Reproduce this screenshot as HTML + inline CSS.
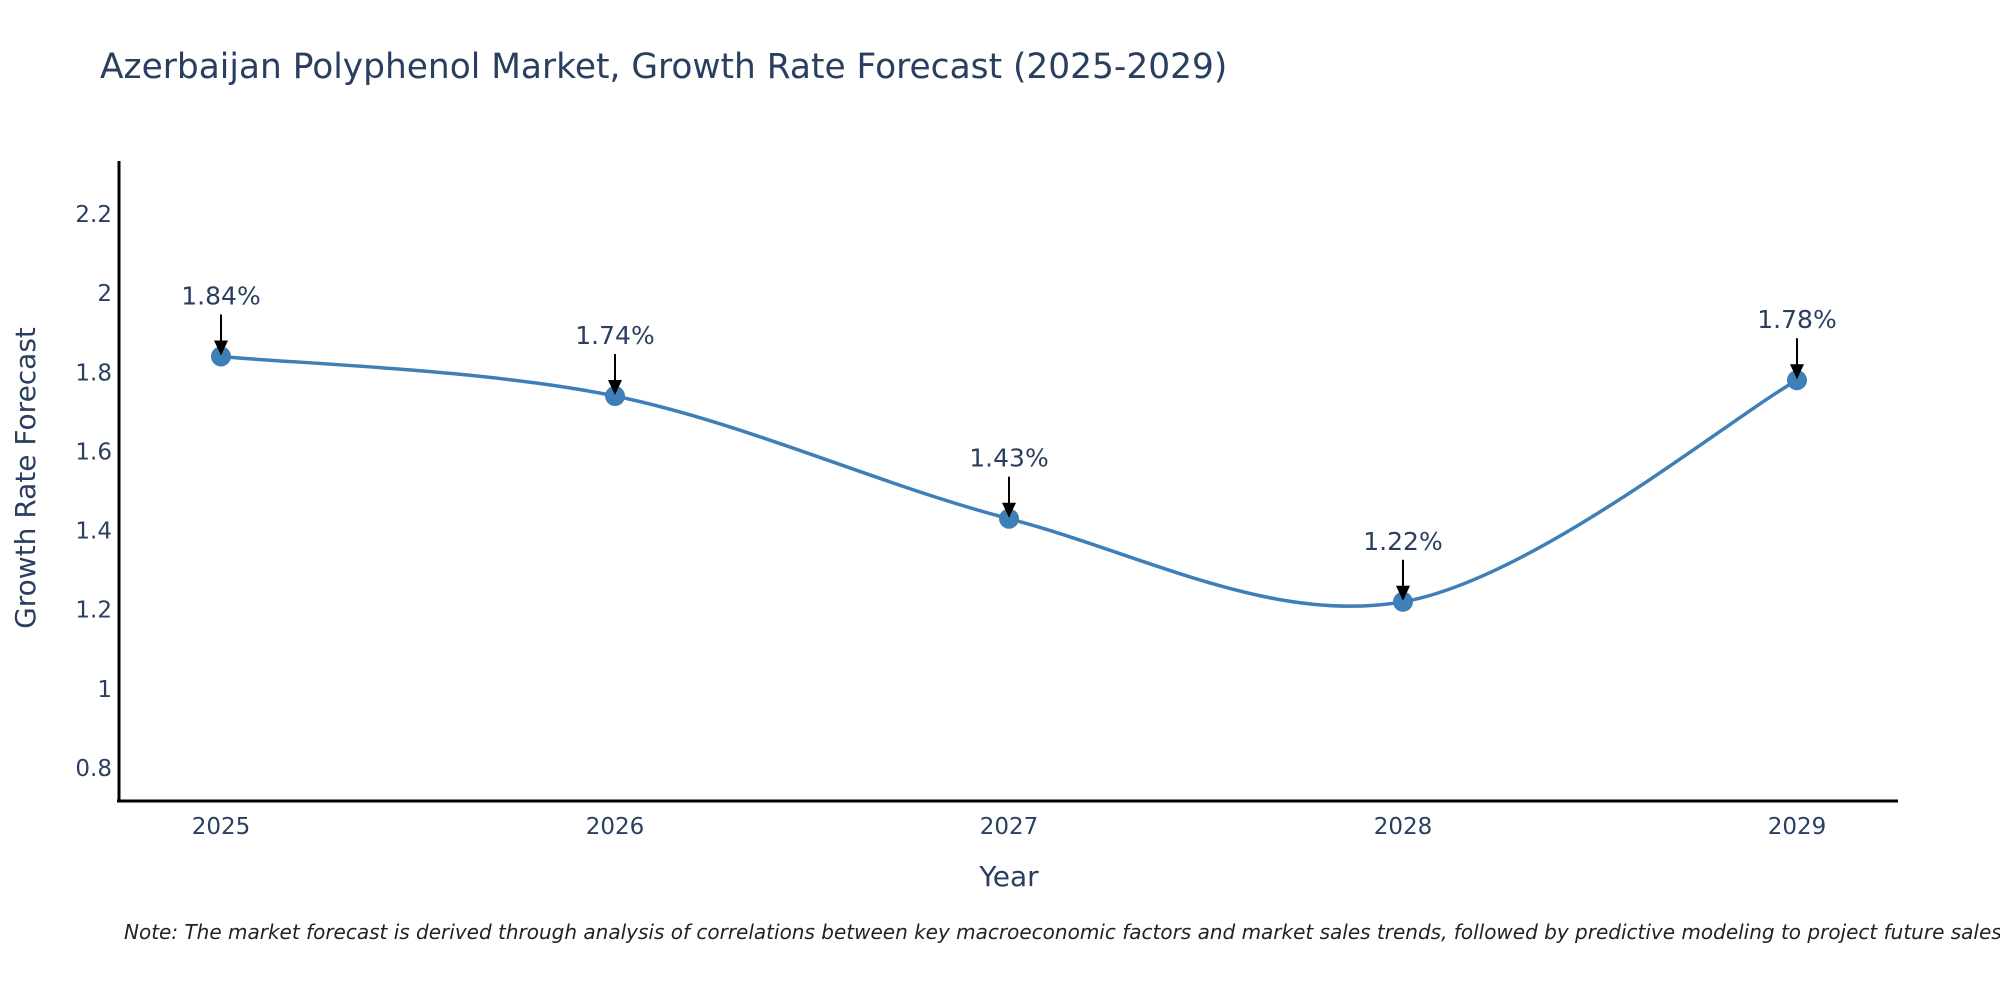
<!DOCTYPE html>
<html><head><meta charset="utf-8"><style>
html,body{margin:0;padding:0;background:#fff;}
svg{display:block;font-family:"DejaVu Sans","Liberation Sans",sans-serif;}
</style></head><body>
<svg id="chart" width="2000" height="1000" viewBox="0 0 2000 1000">
<text x="100" y="78" font-size="34.4" fill="#2a3f5f">Azerbaijan Polyphenol Market, Growth Rate Forecast (2025-2029)</text>
<g id="yticks"></g>
<g id="xticks"></g>
<line x1="119" y1="161" x2="119" y2="802" stroke="#000" stroke-width="3"/>
<line x1="117" y1="801" x2="1898" y2="801" stroke="#000" stroke-width="3"/>
<path id="line" fill="none" stroke="#3d7fb6" stroke-width="3.5"/>
<g id="points"></g>
<g id="annots"></g>
<text transform="translate(35,478) rotate(-90)" text-anchor="middle" font-size="28" fill="#2a3f5f">Growth Rate Forecast</text>
<text x="1009" y="886" text-anchor="middle" font-size="28" fill="#2a3f5f">Year</text>
<text x="124" y="939" font-size="20" font-style="italic" fill="#222">Note: The market forecast is derived through analysis of correlations between key macroeconomic factors and market sales trends, followed by predictive modeling to project future sales.</text>
</svg>
<script>
const years = [2025, 2026, 2027, 2028, 2029];
const growth = [1.84, 1.74, 1.43, 1.22, 1.78];
const labels = ["1.84%", "1.74%", "1.43%", "1.22%", "1.78%"];
const yTicks = [0.8, 1, 1.2, 1.4, 1.6, 1.8, 2, 2.2];
const yTickLabels = ["0.8", "1", "1.2", "1.4", "1.6", "1.8", "2", "2.2"];

const NS = "http://www.w3.org/2000/svg";
function X(v){ return 221 + (v - 2025) * (1797 - 221) / 4; }
function Y(v){ return 768 - (v - 0.8) * (768 - 214) / 1.4; }
function mk(tag, attrs, parent){ const e = document.createElementNS(NS, tag); for (const k in attrs) e.setAttribute(k, attrs[k]); parent.appendChild(e); return e; }

const yt = document.getElementById('yticks');
yTicks.forEach((v, i) => {
  const t = mk('text', {x: 112, y: Y(v) + 8, 'text-anchor': 'end', 'font-size': 23, fill: '#2a3f5f'}, yt);
  
  
  t.textContent = yTickLabels[i];
});
const xt = document.getElementById('xticks');
years.forEach(v => {
  const t = mk('text', {x: X(v), y: 834, 'text-anchor': 'middle', 'font-size': 23, fill: '#2a3f5f'}, xt);
  
  
  t.textContent = String(v);
});

const pts = years.map((y, i) => [X(y), Y(growth[i])]);
let d = 'M' + pts[0][0] + ',' + pts[0][1];
for (let i = 0; i < pts.length - 1; i++) {
  const p0 = pts[Math.max(i - 1, 0)], p1 = pts[i], p2 = pts[i + 1], p3 = pts[Math.min(i + 2, pts.length - 1)];
  const c1 = [p1[0] + (p2[0] - p0[0]) / 6, p1[1] + (p2[1] - p0[1]) / 6];
  const c2 = [p2[0] - (p3[0] - p1[0]) / 6, p2[1] - (p3[1] - p1[1]) / 6];
  d += ' C' + c1[0] + ',' + c1[1] + ' ' + c2[0] + ',' + c2[1] + ' ' + p2[0] + ',' + p2[1];
}
document.getElementById('line').setAttribute('d', d);

const pg = document.getElementById('points');
const ag = document.getElementById('annots');
pts.forEach((p, i) => {
  const c = mk('circle', {cx: p[0], cy: p[1], r: 10, fill: '#3d7fb6'}, pg);
  
  
  const l = mk('line', {x1: p[0], y1: p[1] - 42, x2: p[0], y2: p[1] - 14, stroke: '#000', 'stroke-width': 2}, ag);
  
  
  const h = mk('path', {d: 'M' + (p[0] - 7) + ',' + (p[1] - 16) + ' L' + (p[0] + 7) + ',' + (p[1] - 16) + ' L' + p[0] + ',' + (p[1] - 1) + ' Z', fill: '#000'}, ag);
  
  
  const t = mk('text', {x: p[0], y: p[1] - 52, 'text-anchor': 'middle', 'font-size': 25, fill: '#2a3f5f'}, ag);
  
  
  t.textContent = labels[i];
});
</script>
</body></html>
